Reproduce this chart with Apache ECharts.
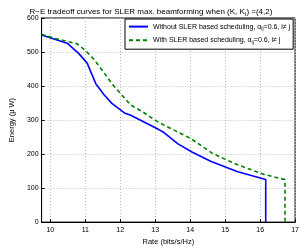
<!DOCTYPE html>
<html><head><meta charset="utf-8">
<script src="https://cdn.jsdelivr.net/npm/echarts@6/dist/echarts.min.js"></script>
<style>html,body{margin:0;padding:0;background:#fff}#c{width:302px;height:251px}</style>
</head><body><div id="c"></div>
<script>
var blueX = [9.75, 10.48, 10.81, 11.05, 11.3, 11.53, 11.76, 12.12, 12.30, 13.1, 13.24, 13.65, 14.05, 14.6, 15.36, 16.16, 16.16];
var blueY = [550, 526, 496, 468, 407, 375, 349, 321, 314, 272, 264, 230, 206, 178, 148, 125, 0];
var greenX = [9.75, 10.13, 10.77, 11.0, 11.26, 11.53, 11.76, 12.12, 12.30, 12.66, 12.93, 13.1, 14.01, 14.64, 15.27, 16.08, 16.71, 16.71];
var greenY = [552, 540, 524, 505, 477, 440, 407, 365, 344, 323, 304, 293, 246, 202, 172, 141, 125, 0];
var xTicks = [10, 11, 12, 13, 14, 15, 16, 17];
var yTicks = [0, 100, 200, 300, 400, 500, 600];
var nameA = 'Without SLER based scheduling';
var nameB = 'With SLER based scheduling';

function pairs(xs, ys) { return xs.map(function (x, i) { return [x, ys[i]]; }); }
var F = 'Liberation Sans, Arial, sans-serif';
var chart = echarts.init(document.getElementById('c'), null, {renderer: 'canvas'});
chart.setOption({
  animation: false,
  backgroundColor: '#fff',
  title: {
    text: '{t|R\u2212E tradeoff curves for SLER max. beamforming when (K, K}{s|I}{t|) =(4,2)}',
    left: 'center', top: 2,
    textStyle: {fontWeight: 'normal', rich: {
      t: {fontFamily: F, fontSize: 8, fontWeight: 'normal', color: '#000'},
      s: {fontFamily: F, fontSize: 5.5, fontWeight: 'normal', color: '#000', verticalAlign: 'bottom', padding: [4, 0, 0, 0]}
    }}
  },
  grid: {left: 26, right: 6, top: 18, bottom: 19, show: true, borderColor: '#000', borderWidth: 1, backgroundColor: 'transparent'},
  legend: {
    left: 125, top: 19, orient: 'vertical',
    backgroundColor: '#fff', borderColor: '#000', borderWidth: 1, borderRadius: 0,
    padding: [4, 3, 4, 3], itemGap: 5, itemWidth: 19, itemHeight: 9,
    itemStyle: {color: 'transparent', borderWidth: 0, opacity: 0},
    data: [nameA, nameB],
    formatter: function (n) {
      var p = n === nameA ? 'Without' : 'With';
      return '{t|' + p + ' SLER based scheduling, \u03b1}{s|ij}{t|=0.6, i\u2260 j}';
    },
    textStyle: {rich: {
      t: {fontFamily: F, fontSize: 7, color: '#000'},
      s: {fontFamily: F, fontSize: 5, color: '#000', verticalAlign: 'bottom', padding: [5, 0, 0, 0]}
    }}
  },
  xAxis: {
    type: 'value', min: 9.75, max: 17,
    name: 'Rate (bits/s/Hz)', nameLocation: 'middle', nameGap: 14,
    nameTextStyle: {fontFamily: F, fontSize: 7.5, color: '#000'},
    axisLine: {show: true, onZero: false, lineStyle: {color: '#000', width: 1}},
    axisTick: {show: true, inside: true, length: 3, customValues: xTicks, lineStyle: {color: '#000'}},
    axisLabel: {customValues: xTicks, fontFamily: F, fontSize: 7, color: '#000', margin: 4},
    splitLine: {show: true, lineStyle: {color: '#bbb', type: [1, 2], width: 1}}
  },
  yAxis: {
    type: 'value', min: 0, max: 600, interval: 100,
    name: 'Energy (\u03bc W)', nameLocation: 'middle', nameGap: 19,
    nameTextStyle: {fontFamily: F, fontSize: 7.5, color: '#000'},
    axisLine: {show: true, lineStyle: {color: '#000', width: 1}},
    axisTick: {show: true, inside: true, length: 3, lineStyle: {color: '#000'}},
    axisLabel: {fontFamily: F, fontSize: 7, color: '#000', margin: 3},
    splitLine: {show: true, lineStyle: {color: '#bbb', type: [1, 2], width: 1}}
  },
  series: [
    {name: nameA, type: 'line', data: pairs(blueX, blueY), showSymbol: false, symbol: 'none',
     lineStyle: {color: '#0000ff', width: 1.6}, itemStyle: {color: '#0000ff'}},
    {name: nameB, type: 'line', data: pairs(greenX, greenY), showSymbol: false, symbol: 'none',
     lineStyle: {color: '#008000', width: 1.6, type: [4, 3]}, itemStyle: {color: '#008000'}}
  ]
});
</script></body></html>
